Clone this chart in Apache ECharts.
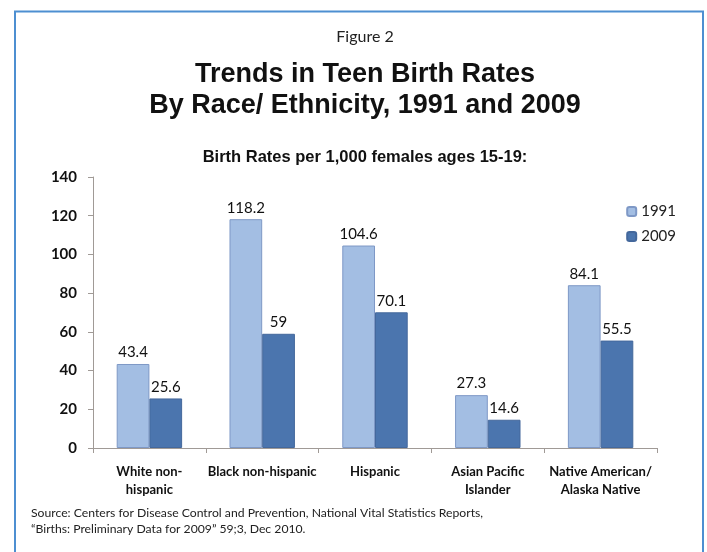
<!DOCTYPE html>
<html>
<head>
<meta charset="utf-8">
<script src="https://cdn.jsdelivr.net/npm/echarts@6/dist/echarts.min.js"></script>
<style>
html,body{margin:0;padding:0;background:#fff;}
#chart{width:707px;height:552px;}
</style>
</head>
<body>
<div id="chart"></div>
<script>
const categories = ['White non-\nhispanic', 'Black non-hispanic', 'Hispanic', 'Asian Pacific\nIslander', 'Native American/\nAlaska Native'];
const rates1991 = [43.4, 118.2, 104.6, 27.3, 84.1];
const rates2009 = [25.6, 59, 70.1, 14.6, 55.5];
const seriesNames = ['1991', '2009'];
const yTicks = [0, 20, 40, 60, 80, 100, 120, 140];

const chart = echarts.init(document.getElementById('chart'));
const labelFont = 'Lato, "Open Sans", sans-serif';
const arialFont = '"Liberation Sans", Arial, sans-serif';
chart.setOption({
  backgroundColor: '#fff',
  animation: false,
  title: [
    { text: 'Source: Centers for Disease Control and Prevention, National Vital Statistics Reports,\n\u201CBirths: Preliminary Data for 2009\u201D 59;3, Dec 2010.', left: 26, top: 500,
      textStyle: { fontFamily: labelFont, fontSize: 12.2, fontWeight: 'normal', color: '#222', lineHeight: 16 } }
  ],
  graphic: [
    { type: 'polyline', shape: { points: [[15, 552], [15, 11.5], [703, 11.5], [703, 552]] },
      style: { stroke: '#4d8fd1', lineWidth: 2, fill: null }, silent: true },
    { type: 'text', x: 365, y: 37, silent: true,
      style: { text: 'Figure 2', align: 'center', verticalAlign: 'middle', fontFamily: labelFont, fontSize: 16, fill: '#222' } },
    { type: 'text', x: 365, y: 90.5, silent: true,
      style: { text: 'Trends in Teen Birth Rates\nBy Race/ Ethnicity, 1991 and 2009', align: 'center', verticalAlign: 'middle',
        fontFamily: arialFont, fontSize: 27, fontWeight: 'bold', lineHeight: 31, fill: '#111' } },
    { type: 'text', x: 365, y: 157, silent: true,
      style: { text: 'Birth Rates per 1,000 females ages 15-19:', align: 'center', verticalAlign: 'middle',
        fontFamily: arialFont, fontSize: 16.5, fontWeight: 'bold', fill: '#111' } }
  ],
  legend: {
    data: seriesNames, orient: 'vertical', right: 26, top: 199, itemWidth: 9, itemHeight: 9, itemGap: 10,
    textStyle: { fontFamily: labelFont, fontSize: 15, color: '#222' }
  },
  grid: { left: 93, right: 50, top: 177, bottom: 104 },
  xAxis: {
    type: 'category', data: categories,
    axisLine: { lineStyle: { color: '#a09a96', width: 1 } },
    axisTick: { show: true, alignWithLabel: false, lineStyle: { color: '#a09a96' }, length: 5 },
    axisLabel: { fontFamily: labelFont, fontSize: 13, fontWeight: 'bold', color: '#111', margin: 15, lineHeight: 18, interval: 0 }
  },
  yAxis: {
    type: 'value', min: 0, max: 140, interval: 20,
    axisLine: { show: true, lineStyle: { color: '#a09a96', width: 1 } },
    axisTick: { show: true, length: 5, lineStyle: { color: '#a09a96' } },
    splitLine: { show: false },
    axisLabel: { fontFamily: labelFont, fontSize: 15, fontWeight: 'bold', color: '#111', margin: 16,
      formatter: v => yTicks.includes(v) ? String(v) : '' }
  },
  series: [
    { name: seriesNames[0], type: 'bar', data: rates1991, barGap: '0%', barCategoryGap: '42%',
      itemStyle: { color: '#a3bee3', borderColor: '#7e98c6', borderWidth: 1 },
      label: { show: true, position: 'top', distance: 4, fontFamily: labelFont, fontSize: 15, color: '#111' } },
    { name: seriesNames[1], type: 'bar', data: rates2009, barGap: '0%', barCategoryGap: '42%',
      itemStyle: { color: '#4b75ae', borderColor: '#44689c', borderWidth: 1 },
      label: { show: true, position: 'top', distance: 4, fontFamily: labelFont, fontSize: 15, color: '#111' } }
  ]
});
</script>
</body>
</html>
